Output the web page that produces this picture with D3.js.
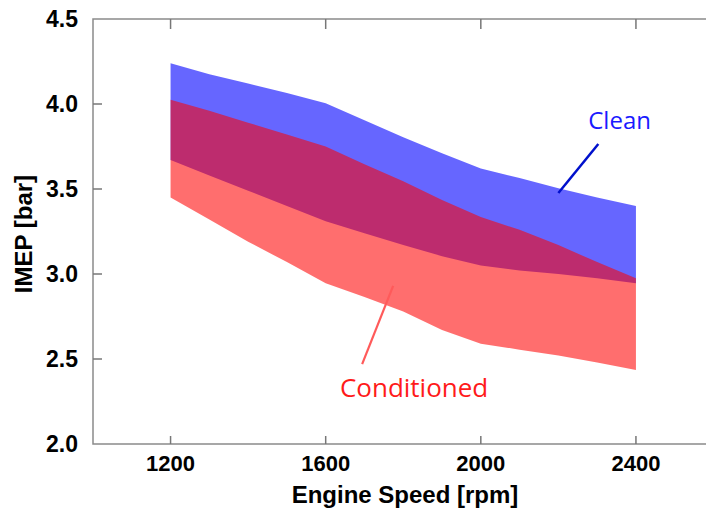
<!DOCTYPE html>
<html>
<head>
<meta charset="utf-8">
<script src="https://cdn.jsdelivr.net/npm/d3@7"></script>
<style>
  body { margin: 0; background: #fff; }
  svg { display: block; }
</style>
</head>
<body>
<div id="main"></div>
<script>
const ctx = {
    w: 706,
    h: 511,
};

// donnees
const rpm = [1200, 1300, 1400, 1500, 1600, 1700, 1800, 1900, 2000, 2100, 2200, 2300, 2400];
const cleanHigh = [4.24, 4.175, 4.12, 4.065, 4.005, 3.905, 3.805, 3.71, 3.62, 3.565, 3.505, 3.45, 3.40];
const cleanLow = [3.67, 3.58, 3.49, 3.40, 3.31, 3.24, 3.17, 3.105, 3.05, 3.02, 3.0, 2.975, 2.945];
const condHigh = [4.025, 3.96, 3.89, 3.82, 3.75, 3.645, 3.545, 3.435, 3.335, 3.26, 3.17, 3.07, 2.975];
const condLow = [3.45, 3.32, 3.19, 3.07, 2.945, 2.865, 2.78, 2.67, 2.59, 2.555, 2.52, 2.48, 2.435];
const xTicks = [1200, 1600, 2000, 2400];
const yTicks = [2.0, 2.5, 3.0, 3.5, 4.0, 4.5];

function createChart(svgEl) {
    const left = 93, right = 713.5, top = 19, bottom = 444;
    const x = d3.scaleLinear().domain([1000, 2600]).range([left, right]);
    const y = d3.scaleLinear().domain([2.0, 4.5]).range([bottom, top]);

    const area = (hi, lo) => d3.area()
        .x((d, i) => x(rpm[i]))
        .y0((d, i) => y(lo[i]))
        .y1((d, i) => y(hi[i]));

    // bande "Clean" puis "Conditioned" par dessus
    svgEl.append("path")
        .datum(rpm)
        .attr("d", area(cleanHigh, cleanLow))
        .attr("fill", "rgb(0,0,255)")
        .attr("fill-opacity", 0.6);
    svgEl.append("path")
        .datum(rpm)
        .attr("d", area(condHigh, condLow))
        .attr("fill", "rgb(255,0,0)")
        .attr("fill-opacity", 0.57);

    // cadre
    svgEl.append("rect")
        .attr("x", left).attr("y", top)
        .attr("width", right - left).attr("height", bottom - top)
        .attr("fill", "none")
        .attr("stroke", "#8a8a8a")
        .attr("stroke-width", 1.5);

    const tickColor = "#777";
    svgEl.selectAll(".xtb").data(xTicks).enter().append("line")
        .attr("x1", d => x(d)).attr("x2", d => x(d))
        .attr("y1", bottom).attr("y2", bottom - 8)
        .attr("stroke", tickColor).attr("stroke-width", 1.5);
    svgEl.selectAll(".xtt").data(xTicks).enter().append("line")
        .attr("x1", d => x(d)).attr("x2", d => x(d))
        .attr("y1", top).attr("y2", top + 10)
        .attr("stroke", tickColor).attr("stroke-width", 1.5);
    svgEl.selectAll(".yt").data(yTicks.slice(1, -1)).enter().append("line")
        .attr("x1", left).attr("x2", left + 9)
        .attr("y1", d => y(d)).attr("y2", d => y(d))
        .attr("stroke", tickColor).attr("stroke-width", 1.5);

    const font = "Liberation Sans, Arial, sans-serif";
    svgEl.selectAll(".xl").data(xTicks).enter().append("text")
        .attr("x", d => x(d)).attr("y", 471)
        .attr("text-anchor", "middle")
        .style("font", `bold 22px ${font}`)
        .text(d => d);
    svgEl.selectAll(".yl").data(yTicks).enter().append("text")
        .attr("x", 78).attr("y", d => y(d) + 8)
        .attr("text-anchor", "end")
        .style("font", `bold 23px ${font}`)
        .text(d => d.toFixed(1));

    svgEl.append("text")
        .attr("x", 405).attr("y", 503)
        .attr("text-anchor", "middle")
        .style("font", `bold 24px ${font}`)
        .text("Engine Speed [rpm]");
    svgEl.append("text")
        .attr("transform", "translate(32,234) rotate(-90)")
        .attr("text-anchor", "middle")
        .style("font", `bold 24px ${font}`)
        .text("IMEP [bar]");

    // annotations
    svgEl.append("line")
        .attr("x1", x(2303)).attr("y1", y(3.765))
        .attr("x2", x(2200)).attr("y2", y(3.476))
        .attr("stroke", "#0010cc").attr("stroke-width", 2.5);
    svgEl.append("text")
        .attr("x", x(2277)).attr("y", y(3.853))
        .attr("fill", "#1a1aff")
        .style("font", "24px 'Open Sans', sans-serif")
        .text("Clean");
    svgEl.append("line")
        .attr("x1", x(1774)).attr("y1", y(2.93))
        .attr("x2", x(1694)).attr("y2", y(2.47))
        .attr("stroke", "#ff5a5a").attr("stroke-width", 2.2);
    svgEl.append("text")
        .attr("x", x(1828)).attr("y", y(2.276))
        .attr("text-anchor", "middle")
        .attr("fill", "#ff1a1a")
        .style("font", "26px 'Open Sans', sans-serif")
        .text("Conditioned");
}

function createViz() {
    const svgEl = d3.select("#main").append("svg")
        .attr("width", ctx.w)
        .attr("height", ctx.h);
    createChart(svgEl);
}

createViz();
</script>
</body>
</html>
